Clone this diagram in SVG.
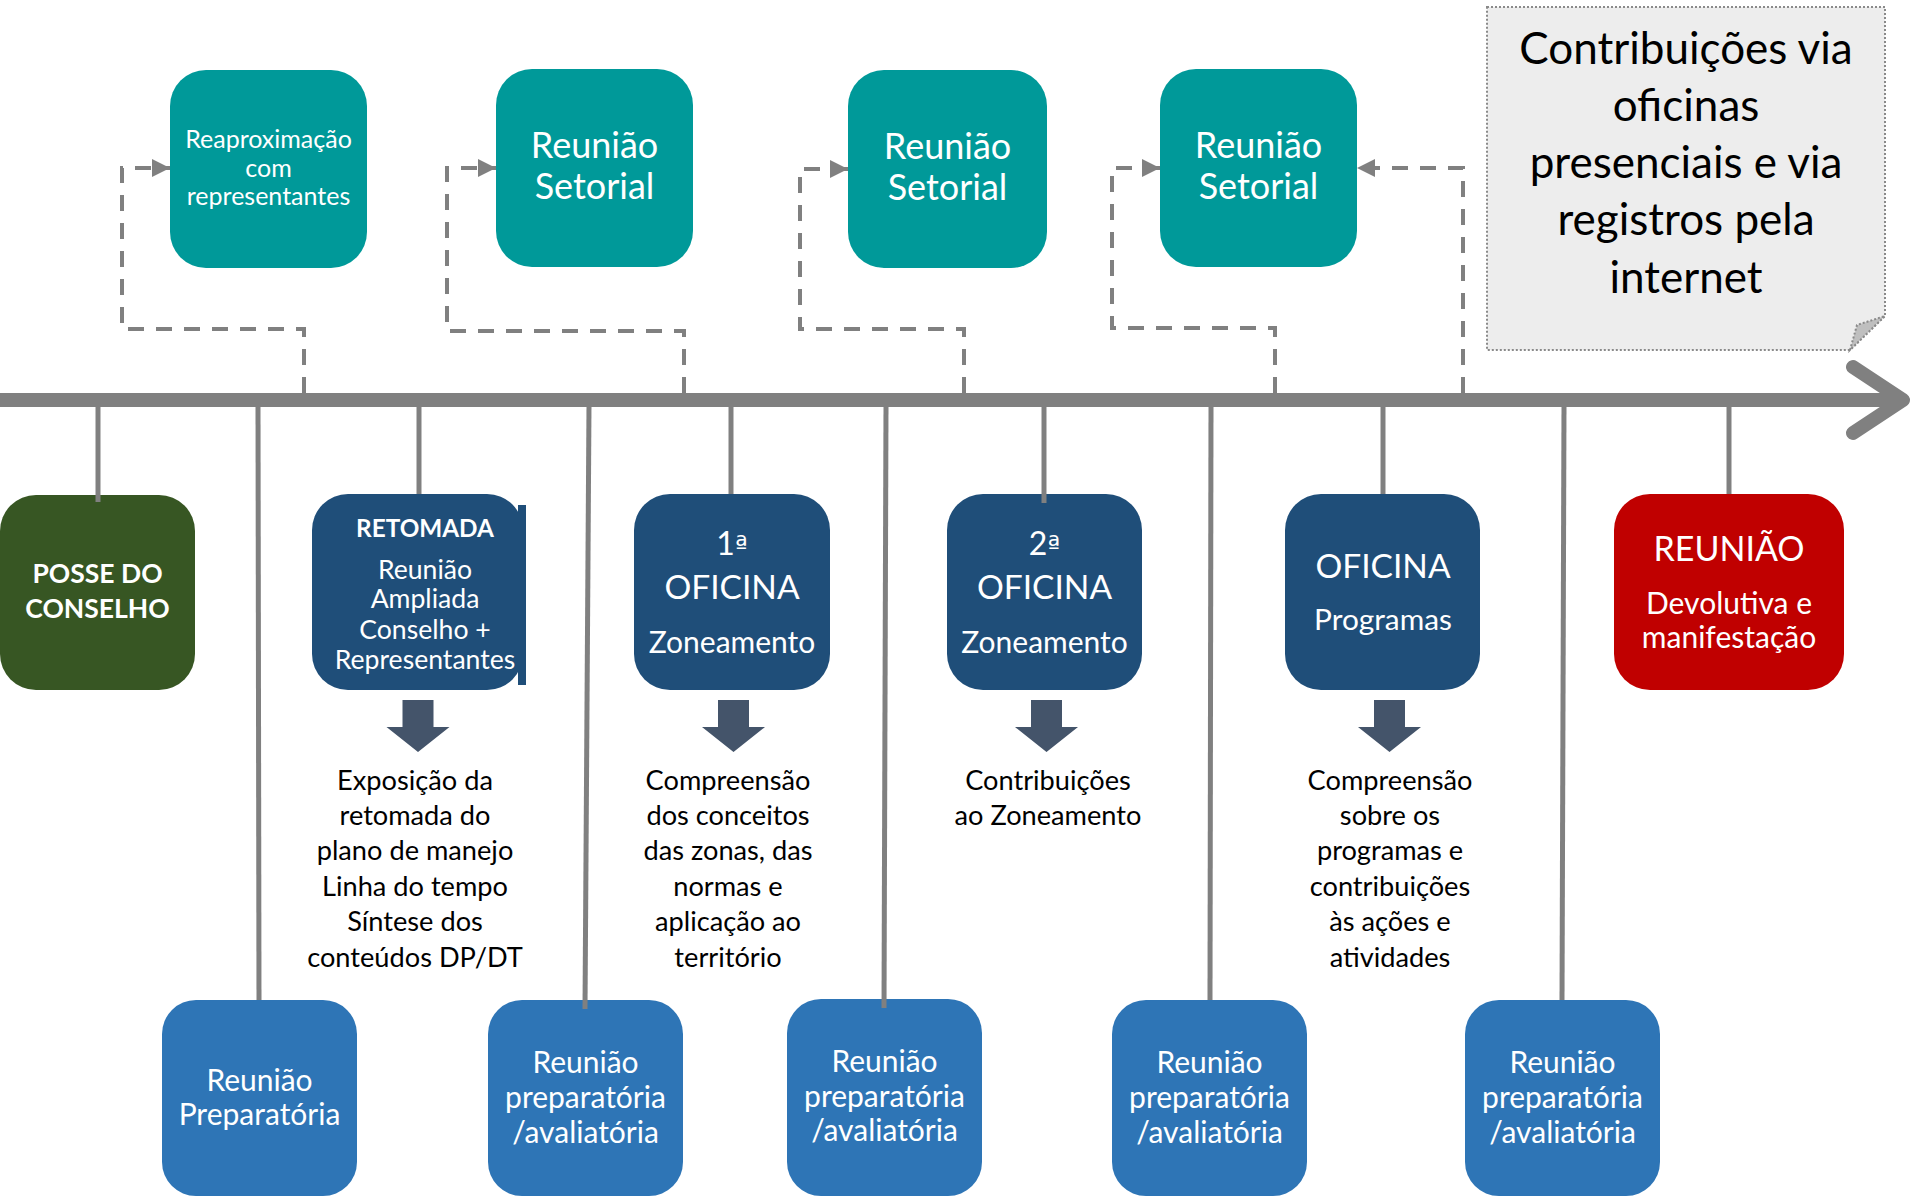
<svg xmlns="http://www.w3.org/2000/svg" width="1911" height="1196" viewBox="0 0 1911 1196">
<defs>
<style>
.t{font-family:Lato,"Liberation Sans",sans-serif;text-anchor:middle;fill:#fff}
.k{font-family:Lato,"Liberation Sans",sans-serif;text-anchor:middle;fill:#000}
.o{font-family:"DejaVu Sans",sans-serif;font-size:27px}
.teal{fill:#009999}
.dark{fill:#1F4E79}
.lb{fill:#2E75B6}
.tick{stroke:#808080;stroke-width:5;fill:none}
.dash{stroke:#808080;stroke-width:4;fill:none;stroke-dasharray:16 12}
.barr{fill:#44546A}
</style>
<marker id="ah" markerUnits="userSpaceOnUse" markerWidth="18" markerHeight="18" refX="16" refY="8" orient="auto" viewBox="0 0 16 16">
<path d="M0,0 L16,8 L0,16 Z" fill="#808080"/>
</marker>
</defs>

<g id="note">
<path d="M1487,7 H1885 V316 L1850,350 H1487 Z" fill="#EDEDED" stroke="#8A8A8A" stroke-width="2" stroke-dasharray="2 2"/>
<path d="M1850,350 L1857,325 L1885,316 Z" fill="#BFBFBF" stroke="#8A8A8A" stroke-width="2" stroke-dasharray="2 2"/>
<text class="k" font-size="44"><tspan x="1686" y="64">Contribuições via</tspan><tspan x="1686" y="121">oficinas</tspan><tspan x="1686" y="178">presenciais e via</tspan><tspan x="1686" y="235">registros pela</tspan><tspan x="1686" y="293">internet</tspan></text>
</g>

<g id="top-reaproximacao">
<rect class="teal" x="170" y="70" width="197" height="198" rx="36"/>
<text class="t" font-size="25"><tspan x="268.5" y="148">Reaproximação</tspan><tspan x="268.5" y="177">com</tspan><tspan x="268.5" y="205">representantes</tspan></text>
</g>
<g id="top-setorial-1">
<rect class="teal" x="496" y="69" width="197" height="198" rx="36"/>
<text class="t" font-size="36"><tspan x="594.5" y="158">Reunião</tspan><tspan x="594.5" y="199">Setorial</tspan></text>
</g>
<g id="top-setorial-2">
<rect class="teal" x="848" y="70" width="199" height="198" rx="36"/>
<text class="t" font-size="36"><tspan x="947.5" y="159">Reunião</tspan><tspan x="947.5" y="200">Setorial</tspan></text>
</g>
<g id="top-setorial-3">
<rect class="teal" x="1160" y="69" width="197" height="198" rx="36"/>
<text class="t" font-size="36"><tspan x="1258.5" y="158">Reunião</tspan><tspan x="1258.5" y="199">Setorial</tspan></text>
</g>

<g id="posse">
<rect x="0" y="495" width="195" height="195" rx="36" fill="#375623"/>
<text class="t" font-size="26.5" font-weight="bold"><tspan x="97.5" y="583">POSSE DO</tspan><tspan x="97.5" y="618">CONSELHO</tspan></text>
</g>
<g id="retomada">
<rect class="dark" x="312" y="494" width="211" height="196" rx="36"/>
<rect class="dark" x="518" y="505" width="8" height="180"/>
<text class="t" font-size="24.3" font-weight="bold" x="425" y="537">RETOMADA</text>
<text class="t" font-size="26.6"><tspan x="425" y="579">Reunião</tspan><tspan x="425" y="608">Ampliada</tspan><tspan x="425" y="639">Conselho +</tspan><tspan x="425" y="669">Representantes</tspan></text>
</g>
<g id="oficina-1">
<rect class="dark" x="634" y="494" width="196" height="196" rx="36"/>
<text class="t" font-size="32" x="732" y="555">1<tspan class="o">ª</tspan></text>
<text class="t" font-size="33.5" x="732" y="599">OFICINA</text>
<text class="t" font-size="30" x="732" y="653">Zoneamento</text>
</g>
<g id="oficina-2">
<rect class="dark" x="947" y="494" width="195" height="196" rx="36"/>
<text class="t" font-size="32" x="1044.5" y="555">2<tspan class="o">ª</tspan></text>
<text class="t" font-size="33.5" x="1044.5" y="599">OFICINA</text>
<text class="t" font-size="30" x="1044.5" y="653">Zoneamento</text>
</g>
<g id="oficina-programas">
<rect class="dark" x="1285" y="494" width="195" height="196" rx="36"/>
<text class="t" font-size="33.5" x="1383" y="578">OFICINA</text>
<text class="t" font-size="29.8" x="1383" y="630">Programas</text>
</g>
<g id="reuniao-devolutiva">
<rect x="1614" y="494" width="230" height="196" rx="36" fill="#C00000"/>
<text class="t" font-size="34" x="1729" y="561">REUNIÃO</text>
<text class="t" font-size="30"><tspan x="1729" y="614">Devolutiva e</tspan><tspan x="1729" y="648">manifestação</tspan></text>
</g>

<g id="desc-retomada">
<polygon class="barr" points="402.5,700 433.5,700 433.5,727 449.5,727 418,752 386.5,727 402.5,727"/>
<text class="k" font-size="27.2"><tspan x="415" y="790">Exposição da</tspan><tspan x="415" y="825">retomada do</tspan><tspan x="415" y="860">plano de manejo</tspan><tspan x="415" y="896">Linha do tempo</tspan><tspan x="415" y="931">Síntese dos</tspan><tspan x="415" y="967">conteúdos DP/DT</tspan></text>
</g>
<g id="desc-oficina-1">
<polygon class="barr" points="718,700 749,700 749,727 765,727 733.5,752 702,727 718,727"/>
<text class="k" font-size="27.2"><tspan x="728" y="790">Compreensão</tspan><tspan x="728" y="825">dos conceitos</tspan><tspan x="728" y="860">das zonas, das</tspan><tspan x="728" y="896">normas e</tspan><tspan x="728" y="931">aplicação ao</tspan><tspan x="728" y="967">território</tspan></text>
</g>
<g id="desc-oficina-2">
<polygon class="barr" points="1031,700 1062,700 1062,727 1078,727 1046.5,752 1015,727 1031,727"/>
<text class="k" font-size="27.2"><tspan x="1048" y="790">Contribuições</tspan><tspan x="1048" y="825">ao Zoneamento</tspan></text>
</g>
<g id="desc-programas">
<polygon class="barr" points="1374,700 1405,700 1405,727 1421,727 1389.5,752 1358,727 1374,727"/>
<text class="k" font-size="27.2"><tspan x="1390" y="790">Compreensão</tspan><tspan x="1390" y="825">sobre os</tspan><tspan x="1390" y="860">programas e</tspan><tspan x="1390" y="896">contribuições</tspan><tspan x="1390" y="931">às ações e</tspan><tspan x="1390" y="967">atividades</tspan></text>
</g>

<g id="prep-1">
<rect class="lb" x="162" y="1000" width="195" height="196" rx="34"/>
<text class="t" font-size="30"><tspan x="259.5" y="1091">Reunião</tspan><tspan x="259.5" y="1125">Preparatória</tspan></text>
</g>
<g id="prep-2">
<rect class="lb" x="488" y="1000" width="195" height="196" rx="34"/>
<text class="t" font-size="30"><tspan x="585.5" y="1073">Reunião</tspan><tspan x="585.5" y="1108">preparatória</tspan><tspan x="585.5" y="1143">/avaliatória</tspan></text>
</g>
<g id="prep-3">
<rect class="lb" x="787" y="999" width="195" height="197" rx="34"/>
<text class="t" font-size="30"><tspan x="884.5" y="1072">Reunião</tspan><tspan x="884.5" y="1107">preparatória</tspan><tspan x="884.5" y="1141">/avaliatória</tspan></text>
</g>
<g id="prep-4">
<rect class="lb" x="1112" y="1000" width="195" height="196" rx="34"/>
<text class="t" font-size="30"><tspan x="1209.5" y="1073">Reunião</tspan><tspan x="1209.5" y="1108">preparatória</tspan><tspan x="1209.5" y="1143">/avaliatória</tspan></text>
</g>
<g id="prep-5">
<rect class="lb" x="1465" y="1000" width="195" height="196" rx="34"/>
<text class="t" font-size="30"><tspan x="1562.5" y="1073">Reunião</tspan><tspan x="1562.5" y="1108">preparatória</tspan><tspan x="1562.5" y="1143">/avaliatória</tspan></text>
</g>

<g id="connectors">
<line x1="0" y1="400" x2="1900" y2="400" stroke="#808080" stroke-width="14"/>
<polyline points="1853,367 1903,400 1853,433" fill="none" stroke="#808080" stroke-width="14" stroke-linecap="round" stroke-linejoin="round"/>
<line class="tick" x1="98" y1="405" x2="98" y2="502"/>
<line class="tick" x1="419" y1="405" x2="419" y2="494"/>
<line class="tick" x1="731" y1="405" x2="731" y2="494"/>
<line class="tick" x1="1044" y1="405" x2="1044" y2="503"/>
<line class="tick" x1="1383" y1="405" x2="1383" y2="494"/>
<line class="tick" x1="1729" y1="405" x2="1729" y2="494"/>
<line class="tick" x1="258" y1="405" x2="259" y2="1000"/>
<line class="tick" x1="589" y1="405" x2="585" y2="1009"/>
<line class="tick" x1="886" y1="405" x2="884" y2="1008"/>
<line class="tick" x1="1211" y1="405" x2="1210" y2="1000"/>
<line class="tick" x1="1564" y1="405" x2="1562" y2="1000"/>
<path class="dash" d="M304,393 V329 H122 V168 H170" marker-end="url(#ah)"/>
<path class="dash" d="M684,393 V331 H447 V168 H496" marker-end="url(#ah)"/>
<path class="dash" d="M964,393 V329 H800 V169 H848" marker-end="url(#ah)"/>
<path class="dash" d="M1275,393 V328 H1112 V168 H1160" marker-end="url(#ah)"/>
<path class="dash" d="M1463,393 V168 H1357" marker-end="url(#ah)"/>
</g>
</svg>
